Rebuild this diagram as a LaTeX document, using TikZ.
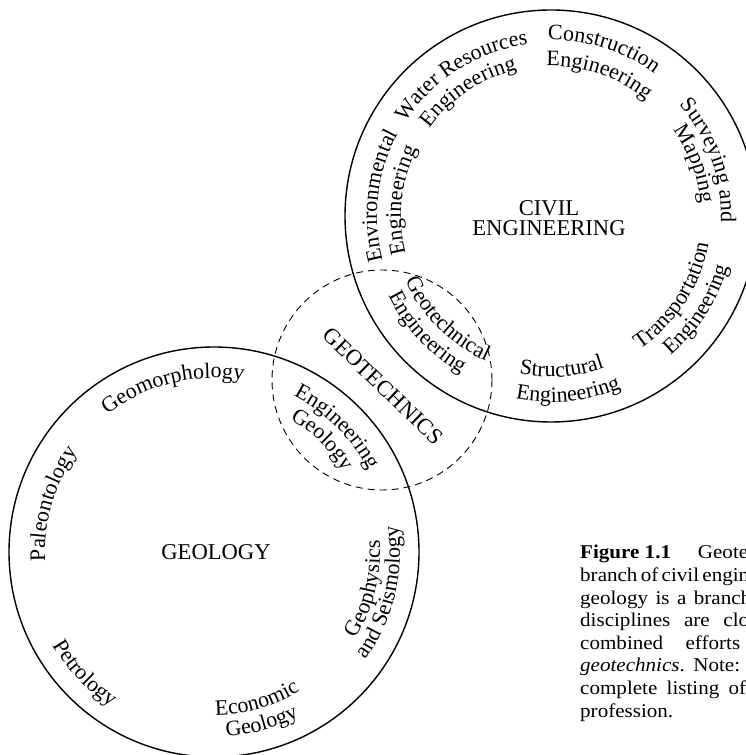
\documentclass[tikz,border=0pt]{standalone}
\usepackage{fontspec}
\setmainfont{Liberation Serif}
\newfontfamily\capfamily[FakeStretch=1.08]{Liberation Serif}
\usetikzlibrary{decorations.text}
\newcommand\labfont{\fontsize{22}{24}\selectfont}
\newcommand\titfont{\fontsize{22.6}{20}\selectfont}
\newcommand\capfont{\capfamily\fontsize{19.5}{22.6}\selectfont}
% clockwise arc text (letter tops outward)
\newcommand\cwtext[4]{\path[decorate,decoration={text along path,text align=center,text={|\labfont|#4}}] (#1) ++({#2+70}:#3) arc[start angle={#2+70},end angle={#2-70},radius=#3];}
% counter-clockwise arc text (letter tops inward)
\newcommand\ccwtext[4]{\path[decorate,decoration={text along path,text align=center,text={|\labfont|#4}}] (#1) ++({#2-70}:#3) arc[start angle={#2-70},end angle={#2+70},radius=#3];}
\tikzset{
  ring/.style={line width=1.4pt},
  dashring/.style={line width=0.9pt,dash pattern=on 7pt off 5pt},
  capline/.style={anchor=base west,inner sep=0pt,font=\capfont},
  title/.style={font=\titfont,anchor=base,inner sep=0pt}
}
\begin{document}
\begin{tikzpicture}[x=1pt,y=1pt]
\useasboundingbox (0,0) rectangle (746,755);
\clip (0,0) rectangle (746,755);
\coordinate (C1) at (551,539);
\coordinate (G) at (214,203);
\coordinate (D) at (382,375);
\draw[ring] (C1) circle[radius=206];
\draw[ring] (G) circle[radius=205];
\draw[dashring] (D) circle[radius=110];
% centre titles
\node[title] (civil) at (549,539) {CIVIL};
\node[title] (engineering) at (549,519) {ENGINEERING};
\node[title] (geology) at (216,195) {GEOLOGY};
\node[title,anchor=center,rotate=-44] (geotechnics) at (383,369) {GEOTECHNICS};
% civil engineering branches
\cwtext{C1}{122.4}{173}{Water Resources}
\cwtext{C1}{123.6}{150}{Engineering}
\cwtext{C1}{72.5}{176}{Construction}
\cwtext{C1}{71.2}{150}{Engineering}
\cwtext{C1}{19.4}{170}{Surveying and}
\cwtext{C1}{20}{150}{Mapping}
\cwtext{C1}{173.3}{174}{Environmental}
\cwtext{C1}{174}{150}{Engineering}
\ccwtext{C1}{-33.1}{160}{Transportation}
\ccwtext{C1}{-32.7}{184}{Engineering}
\ccwtext{C1}{-86}{161}{Structural}
\ccwtext{C1}{-84.4}{186}{Engineering}
\ccwtext{C1}{-135}{159}{Geotechnical}
\ccwtext{C1}{-136.8}{181}{Engineering}
% geology branches
\cwtext{G}{104}{174}{Geomorphology}
\cwtext{G}{163.4}{169}{Paleontology}
\cwtext{G}{45.4}{175}{Engineering}
\cwtext{G}{46}{153}{Geology}
\ccwtext{G}{-136.8}{186}{Petrology}
\ccwtext{G}{-73.8}{163}{Economic}
\ccwtext{G}{-74.4}{185}{Geology}
\ccwtext{G}{-13.7}{166}{Geophysics}
\ccwtext{G}{-13.7}{186}{and Seismology}
% caption
\node[capline] (cap1) at (580,196) {\hbox to 168pt{\textbf{Figure\ 1.1}\hfill Geote}};
\node[capline] (cap2) at (580,173.4) {\hbox to 169pt{branch\hfill of\hfill civil\hfill engin}};
\node[capline] (cap3) at (580,150.8) {\hbox to 171pt{geology\hfill is\hfill a\hfill branch}};
\node[capline] (cap4) at (580,128.2) {\hbox to 169pt{disciplines\hfill are\hfill clo}};
\node[capline] (cap5) at (580,105.6) {\hbox to 160pt{combined\hfill efforts}};
\node[capline] (cap6) at (580,83) {\hbox to 160pt{\textit{geotechnics}.\hfill Note:}};
\node[capline] (cap7) at (580,60.4) {\hbox to 166pt{complete\hfill listing\hfill of}};
\node[capline] (cap8) at (580,37.8) {profession.};
\end{tikzpicture}
\end{document}
